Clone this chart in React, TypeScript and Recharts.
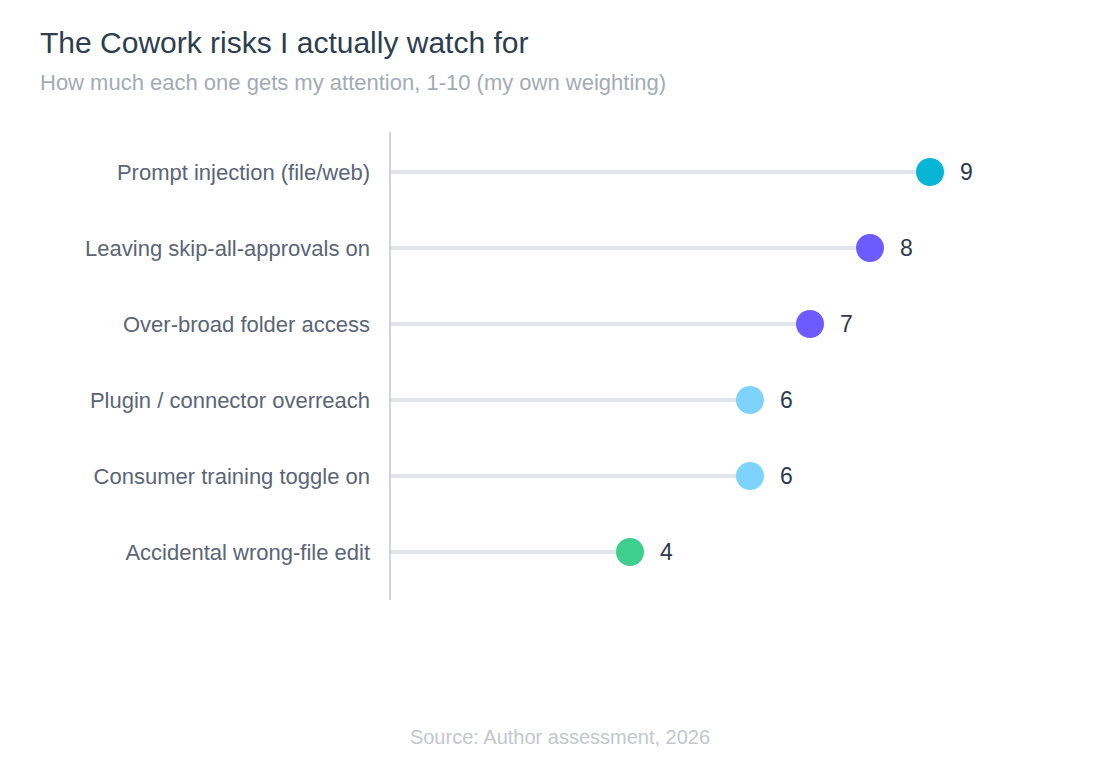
import React from 'react';
import { ComposedChart, Bar, Line, XAxis, YAxis, LabelList } from 'recharts';

const categories = [
  'Prompt injection (file/web)',
  'Leaving skip-all-approvals on',
  'Over-broad folder access',
  'Plugin / connector overreach',
  'Consumer training toggle on',
  'Accidental wrong-file edit',
];
const values = [9, 8, 7, 6, 6, 4];
const dotColors = ['#06b6d4', '#6c5cff', '#6c5cff', '#7dd3fc', '#7dd3fc', '#3ecf8e'];

const data = categories.map((name, i) => ({ name, value: values[i], color: dotColors[i] }));

const FONT = '"Liberation Sans", Arial, Helvetica, sans-serif';

const Dot = (props: any) => {
  const { cx, cy, payload, index } = props;
  if (cx == null || cy == null) return <g key={`d${index}`} />;
  return <circle key={`d${index}`} cx={cx} cy={cy} r={14} fill={payload.color} />;
};

const ValueLabel = (props: any) => {
  const { x, y, value } = props;
  return (
    <text x={x + 30} y={y} dominantBaseline="central" fill="#2d3a4e" fontSize={23} fontFamily={FONT}>
      {value}
    </text>
  );
};

export default function App() {
  return (
    <div style={{ position: 'absolute', left: 0, top: 0, width: 1120, height: 760, background: '#fff', fontFamily: FONT }}>
      <div style={{ position: 'absolute', left: 40, top: 27.5, fontSize: 30, lineHeight: '30px', color: '#2c3e50', whiteSpace: 'nowrap' }}>
        The Cowork risks I actually watch for
      </div>
      <div style={{ position: 'absolute', left: 40, top: 72, fontSize: 22, lineHeight: '22px', color: '#a3abb6', whiteSpace: 'nowrap' }}>
        How much each one gets my attention, 1-10 (my own weighting)
      </div>
      <div style={{ position: 'absolute', left: 0, width: 1120, textAlign: 'center', top: 727, fontSize: 20, lineHeight: '20px', color: '#c3c7ce', whiteSpace: 'nowrap' }}>
        Source: Author assessment, 2026
      </div>
      <div style={{ position: 'absolute', left: 0, top: 0 }}>
        <ComposedChart
          width={1120}
          height={760}
          data={data}
          layout="vertical"
          margin={{ top: 132, right: 130, bottom: 160, left: 0 }}
        >
          <XAxis type="number" domain={[0, 10]} hide />
          <YAxis
            type="category"
            dataKey="name"
            width={390}
            padding={{ top: 2, bottom: 10 }}
            axisLine={{ stroke: '#c2c6cd', strokeWidth: 1.5 }}
            tickLine={false}
            tickSize={0}
            tickMargin={20}
            tick={{ fill: '#5a6577', fontSize: 22, fontFamily: FONT }}
            interval={0}
          />
          <Bar dataKey="value" barSize={4} fill="#e1e4e8" isAnimationActive={false} />
          <Line
            dataKey="value"
            stroke="none"
            dot={Dot}
            activeDot={false}
            isAnimationActive={false}
          >
            <LabelList dataKey="value" content={ValueLabel} />
          </Line>
        </ComposedChart>
      </div>
    </div>
  );
}
